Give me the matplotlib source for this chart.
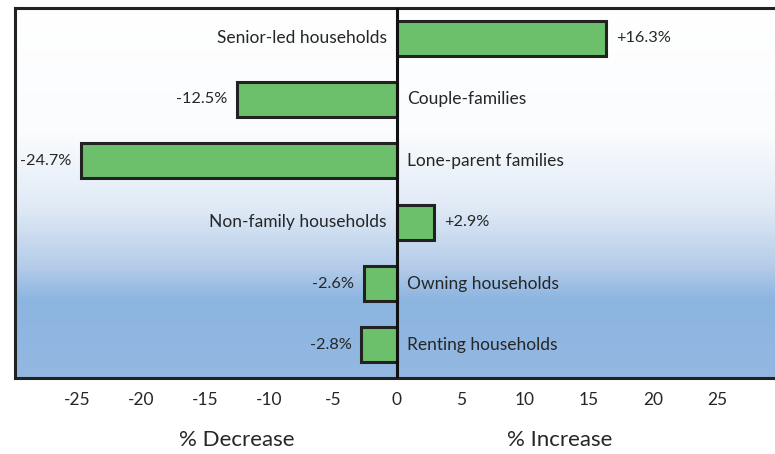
import numpy as np
import matplotlib.pyplot as plt
from matplotlib.colors import LinearSegmentedColormap

categories = ["Senior-led households", "Couple-families", "Lone-parent families",
              "Non-family households", "Owning households", "Renting households"]
changes = [16.3, -12.5, -24.7, 2.9, -2.6, -2.8]
value_labels = ["+16.3%", "-12.5%", "-24.7%", "+2.9%", "-2.6%", "-2.8%"]
tick_values = [-25, -20, -15, -10, -5, 0, 5, 10, 15, 20, 25]
tick_labels = ["-25", "-20", "-15", "-10", "-5", "0", "5", "10", "15", "20", "25"]

plt.rcParams['font.family'] = ['Lato', 'DejaVu Sans']
text_color = "#262626"

fig = plt.figure(figsize=(7.75, 4.54), dpi=100)
ax = fig.add_axes([15 / 775, 76 / 454, 760 / 775, 370 / 454])

xmin, xmax = -29.84, 29.53
ymin, ymax = 5.54, -0.49
ax.set_xlim(xmin, xmax)
ax.set_ylim(ymin, ymax)

# vertical background gradient: white at top fading into soft blue
stops = [(0.0, "#ffffff"), (0.34, "#fafcfe"), (0.54, "#e0eaf6"),
         (0.70, "#b4cce9"), (0.79, "#8cb5e0"), (1.0, "#93b8e2")]
cmap = LinearSegmentedColormap.from_list("bg", stops)
grad = np.linspace(0, 1, 400).reshape(-1, 1)
ax.imshow(grad, cmap=cmap, aspect="auto", extent=(xmin, xmax, ymin, ymax),
          origin="upper", zorder=0, interpolation="bilinear")
ax.set_xlim(xmin, xmax)
ax.set_ylim(ymin, ymax)

ypos = np.arange(len(categories))
ax.barh(ypos, changes, height=0.57, color="#6cc06c", edgecolor="#222222",
        linewidth=2.2, zorder=2)
ax.axvline(0, color="#111111", linewidth=2.2, zorder=3)

cat_fs = 12.5
val_fs = 11.7
for y, v, cat, lab in zip(ypos, changes, categories, value_labels):
    if v >= 0:
        ax.text(v + 0.8, y, lab, ha="left", va="center", fontsize=val_fs,
                color=text_color, zorder=4)
        ax.text(-0.8, y, cat, ha="right", va="center", fontsize=cat_fs,
                color=text_color, zorder=4)
    else:
        ax.text(v - 0.75, y, lab, ha="right", va="center", fontsize=val_fs,
                color=text_color, zorder=4)
        ax.text(0.8, y, cat, ha="left", va="center", fontsize=cat_fs,
                color=text_color, zorder=4)

ax.set_xticks(tick_values)
ax.set_xticklabels(tick_labels, fontsize=12.5, color=text_color)
ax.tick_params(axis="x", length=0, pad=10)
ax.set_yticks([])

for side in ["left", "top", "bottom"]:
    ax.spines[side].set_linewidth(2.2)
    ax.spines[side].set_color("#222222")
ax.spines["right"].set_visible(False)

fig.text(237 / 775, 1 - 440 / 454, "% Decrease", ha="center", va="center",
         fontsize=16, color=text_color)
fig.text(560 / 775, 1 - 440 / 454, "% Increase", ha="center", va="center",
         fontsize=16, color=text_color)

fig.savefig("out.png", dpi=100)
